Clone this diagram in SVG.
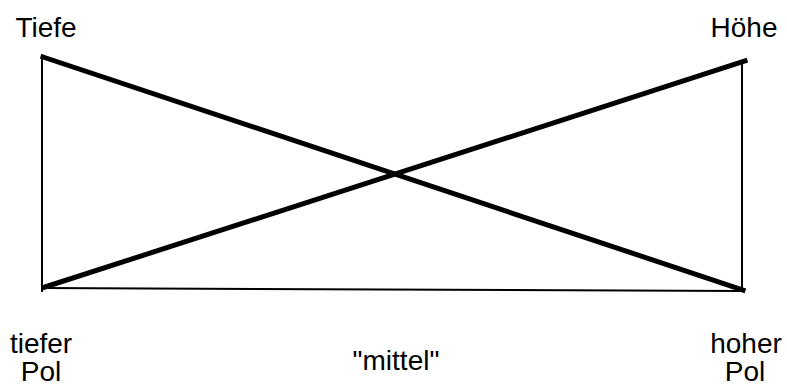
<svg xmlns="http://www.w3.org/2000/svg" width="787" height="387" viewBox="0 0 787 387">
<style>
text{font-family:"Liberation Sans",Arial,sans-serif;font-size:28px;fill:#000;text-anchor:middle}
.thin{stroke:#000;stroke-width:2;fill:none}
.thick{stroke:#000;stroke-width:5;fill:none;stroke-linecap:square}
</style>
<rect width="787" height="387" fill="#fff"/>
<g id="connectors">
<line class="thin" x1="42" y1="56" x2="42" y2="292"/>
<line class="thin" x1="742" y1="60" x2="742" y2="292"/>
<line class="thin" x1="42" y1="288" x2="742" y2="291"/>
<line class="thick" x1="43" y1="57" x2="743" y2="290"/>
<line class="thick" x1="45" y1="287" x2="745" y2="61"/>
</g>
<g id="tiefe"><text x="46" y="37">Tiefe</text></g>
<g id="hoehe"><text x="744" y="37">Höhe</text></g>
<g id="tiefer-pol"><text x="41" y="353">tiefer</text><text x="41" y="381">Pol</text></g>
<g id="hoher-pol"><text x="746" y="353">hoher</text><text x="745" y="381">Pol</text></g>
<g id="mittel"><text x="396" y="370">"mittel"</text></g>
</svg>
